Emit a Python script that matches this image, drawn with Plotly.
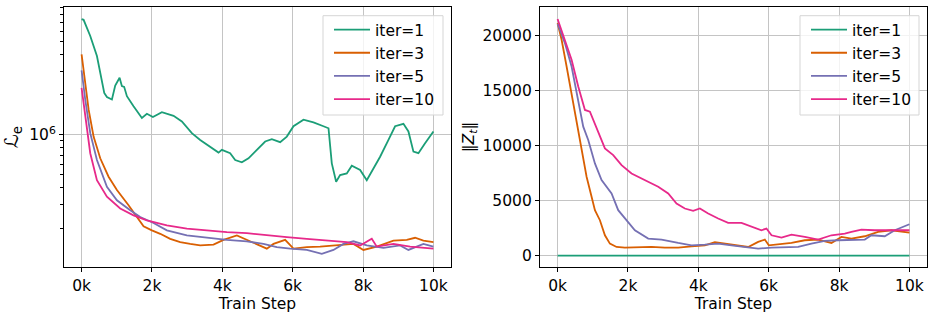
import plotly.graph_objects as go

# ---------------- data ----------------
series_names = ["iter=1", "iter=3", "iter=5", "iter=10"]
colors = ["#1b9e77", "#d95f02", "#7570b3", "#e7298a"]

# Left panel: L_e (log scale)
le_steps_iter1 = [0, 57, 246, 436, 644, 720, 862, 956, 1080, 1146, 1210, 1288, 1477, 1714, 1856, 2027,
                  2282, 2614, 2850, 3134, 3371, 3655, 3892, 3987, 4223, 4366, 4555, 4744, 4981, 5218,
                  5407, 5644, 5833, 6023, 6307, 6591, 6875, 7018, 7112, 7235, 7348, 7538, 7680, 7917,
                  8106, 8248, 8485, 8722, 8911, 9148, 9290, 9432, 9574, 9763, 10000]
le_iter1 = [7.38e6, 7.29e6, 5.52e6, 3.90e6, 2.06e6, 1.92e6, 1.84e6, 2.34e6, 2.68e6, 2.32e6, 2.29e6, 1.95e6,
            1.64e6, 1.34e6, 1.44e6, 1.36e6, 1.48e6, 1.39e6, 1.26e6, 1.03e6, 9.16e5, 8.17e5, 7.36e5, 7.71e5,
            7.28e5, 6.47e5, 6.22e5, 6.67e5, 7.71e5, 8.91e5, 9.27e5, 8.81e5, 9.70e5, 1.16e6, 1.30e6, 1.24e6,
            1.16e6, 1.12e6, 6.11e5, 4.45e5, 4.99e5, 5.14e5, 5.87e5, 5.45e5, 4.57e5, 5.28e5, 6.85e5, 9.16e5,
            1.16e6, 1.21e6, 1.06e6, 7.48e5, 7.28e5, 8.65e5, 1.06e6]

le_steps_iter3 = [0, 104, 199, 341, 530, 767, 1004, 1335, 1572, 1761, 1998, 2235, 2519, 2803, 3087, 3371,
                  3750, 4034, 4413, 4697, 5028, 5265, 5455, 5786, 6023, 6402, 6780, 7159, 7727, 8011,
                  8390, 8864, 9242, 9479, 9716, 10000]
le_iter3 = [4.02e6, 2.32e6, 1.55e6, 9.70e5, 6.67e5, 4.85e5, 3.85e5, 2.96e5, 2.42e5, 2.06e5, 1.92e5, 1.81e5,
            1.66e5, 1.57e5, 1.52e5, 1.48e5, 1.50e5, 1.63e5, 1.76e5, 1.63e5, 1.48e5, 1.40e5, 1.52e5, 1.63e5,
            1.40e5, 1.44e5, 1.45e5, 1.48e5, 1.52e5, 1.37e5, 1.45e5, 1.61e5, 1.63e5, 1.69e5, 1.61e5, 1.57e5]

le_steps_iter5 = [0, 104, 246, 436, 720, 1004, 1383, 1667, 2045, 2424, 2992, 3561, 4129, 4697, 5170, 5549,
                  5928, 6402, 6828, 7159, 7443, 7727, 8106, 8580, 9053, 9290, 9716, 10000]
le_iter5 = [3.04e6, 1.84e6, 1.03e6, 6.47e5, 4.07e5, 3.23e5, 2.72e5, 2.42e5, 2.18e5, 1.92e5, 1.76e5, 1.69e5,
            1.63e5, 1.59e5, 1.52e5, 1.44e5, 1.40e5, 1.37e5, 1.28e5, 1.37e5, 1.52e5, 1.59e5, 1.48e5, 1.42e5,
            1.48e5, 1.37e5, 1.52e5, 1.45e5]

le_steps_iter10 = [0, 104, 246, 436, 720, 1098, 1477, 1856, 2424, 2992, 3561, 4129, 4697, 5265, 5833, 6402,
                   6970, 7538, 7917, 8248, 8390, 8864, 9337, 9716, 10000]
le_iter10 = [2.25e6, 1.37e6, 7.28e5, 4.57e5, 3.43e5, 2.80e5, 2.49e5, 2.28e5, 2.09e5, 1.98e5, 1.92e5, 1.86e5,
             1.83e5, 1.76e5, 1.71e5, 1.66e5, 1.61e5, 1.57e5, 1.48e5, 1.66e5, 1.45e5, 1.52e5, 1.45e5, 1.42e5,
             1.40e5]

# Right panel: ||Z_t||
z_steps_iter1 = [0, 2000, 4000, 6000, 8000, 10000]
z_iter1 = [0, 0, 0, 0, 0, 0]

z_steps_iter3 = [0, 114, 256, 398, 540, 682, 824, 966, 1061, 1203, 1345, 1487, 1676, 1913, 2292, 2670, 3049,
                 3428, 3807, 4186, 4470, 4754, 5133, 5417, 5701, 5890, 6004, 6269, 6648, 7027, 7405, 7784,
                 8068, 8352, 8731, 9110, 9489, 10000]
z_iter3 = [21155, 19635, 17204, 14772, 12036, 9605, 7173, 5350, 4134, 3222, 1854, 1094, 790, 729, 790, 790,
           729, 729, 851, 942, 1216, 1094, 942, 790, 1246, 1459, 942, 1033, 1155, 1398, 1459, 1155, 1702,
           1550, 1763, 2158, 2310, 2097]

z_steps_iter5 = [0, 208, 398, 587, 729, 871, 1061, 1250, 1534, 1723, 1960, 2197, 2576, 2955, 3428, 3807, 4186,
                 4564, 4943, 5322, 5701, 6080, 6458, 6837, 7216, 7595, 7973, 8352, 8731, 8920, 9299, 9583,
                 10000]
z_iter5 = [21094, 19331, 17204, 14164, 11733, 10517, 8389, 6869, 5653, 4134, 3222, 2310, 1550, 1459, 1155, 942,
           1003, 1094, 942, 790, 638, 729, 790, 790, 1094, 1337, 1398, 1398, 1459, 1854, 1763, 2310, 2857]

z_steps_iter10 = [0, 208, 398, 587, 777, 919, 1155, 1345, 1581, 1818, 2102, 2481, 2860, 3144, 3381, 3617, 3854,
                  4044, 4280, 4564, 4848, 5227, 5511, 5795, 5937, 6080, 6364, 6648, 7027, 7405, 7784, 8163,
                  8352, 8636, 9015, 9489, 10000]
z_iter10 = [21520, 19635, 17812, 15380, 13252, 13100, 11277, 9757, 9149, 8237, 7477, 6869, 6261, 5653, 4742,
            4286, 4073, 4286, 3830, 3374, 2979, 2979, 2675, 2310, 2462, 1854, 1641, 1915, 1702, 1459, 1854,
            2006, 2158, 2371, 2310, 2310, 2310]

x_tickvals = [0, 2000, 4000, 6000, 8000, 10000]
x_ticktext = ["0k", "2k", "4k", "6k", "8k", "10k"]
z_tickvals = [0, 5000, 10000, 15000, 20000]
z_ticktext = ["0", "5000", "10000", "15000", "20000"]
le_minor = [2e5, 3e5, 4e5, 5e5, 6e5, 7e5, 8e5, 9e5, 2e6, 3e6, 4e6, 5e6, 6e6, 7e6, 8e6, 9e6]

left_data = [(le_steps_iter1, le_iter1), (le_steps_iter3, le_iter3),
             (le_steps_iter5, le_iter5), (le_steps_iter10, le_iter10)]
right_data = [(z_steps_iter1, z_iter1), (z_steps_iter3, z_iter3),
              (z_steps_iter5, z_iter5), (z_steps_iter10, z_iter10)]

# ---------------- figure ----------------
W, H = 935, 318
FONT = "DejaVu Sans"
FS = 15.5
fig = go.Figure()

for (xs, ys), name, c in zip(left_data, series_names, colors):
    fig.add_trace(go.Scatter(x=xs, y=ys, mode="lines", name=name, xaxis="x", yaxis="y",
                             line=dict(color=c, width=1.8), legend="legend"))
for (xs, ys), name, c in zip(right_data, series_names, colors):
    fig.add_trace(go.Scatter(x=xs, y=ys, mode="lines", name=name, xaxis="x2", yaxis="y2",
                             line=dict(color=c, width=1.8), legend="legend2"))

axis_common = dict(showline=True, mirror=True, linecolor="black", linewidth=1.2,
                   ticks="outside", ticklen=4, tickcolor="black", tickwidth=1,
                   showgrid=True, gridcolor="#c4c4c4", gridwidth=1, zeroline=False,
                   automargin=False,
                   tickfont=dict(family=FONT, size=FS, color="black"))

xdom1 = [64 / W, 451 / W]
xdom2 = [540 / W, 927 / W]
ydom = [1 - 267 / H, 1 - 7 / H]

shapes = [
    dict(type="rect", xref="paper", yref="paper", x0=323 / W, x1=443 / W, y0=1 - 115 / H, y1=1 - 15.7 / H,
         fillcolor="rgba(255,255,255,0.8)", line=dict(color="#d5d5d5", width=1), layer="above"),
    dict(type="rect", xref="paper", yref="paper", x0=800 / W, x1=919 / W, y0=1 - 115 / H, y1=1 - 15.7 / H,
         fillcolor="rgba(255,255,255,0.8)", line=dict(color="#d5d5d5", width=1), layer="above"),
]

legend_common = dict(xanchor="left", yanchor="top", bgcolor="rgba(0,0,0,0)", borderwidth=0,
                     font=dict(family=FONT, size=FS), itemwidth=36, tracegroupgap=0)

fig.update_layout(
    width=W, height=H,
    margin=dict(l=0, r=0, t=0, b=0, autoexpand=False),
    paper_bgcolor="white", plot_bgcolor="white",
    font=dict(family=FONT, size=FS, color="black"),
    shapes=shapes,
    xaxis=dict(domain=xdom1, anchor="y", range=[-500, 10500], tickmode="array",
               tickvals=x_tickvals, ticktext=x_ticktext,
               title=dict(text="Train Step", font=dict(family=FONT, size=FS), standoff=1),
               **axis_common),
    yaxis=dict(domain=ydom, anchor="x", type="log", range=[5.0086, 6.959], tickmode="array",
               tickvals=[1e6], ticktext=["10<sup>6</sup>"],
               minor=dict(tickmode="array", tickvals=le_minor, ticks="outside", ticklen=2.5,
                          tickcolor="black", showgrid=False),
               title=dict(text="<i>ℒ</i><sub>e</sub>", font=dict(family=FONT, size=19), standoff=6),
               **axis_common),
    xaxis2=dict(domain=xdom2, anchor="y2", range=[-500, 10500], tickmode="array",
                tickvals=x_tickvals, ticktext=x_ticktext,
                title=dict(text="Train Step", font=dict(family=FONT, size=FS), standoff=1),
                **axis_common),
    yaxis2=dict(domain=ydom, anchor="x2", range=[-1033, 22614], tickmode="array",
                tickvals=z_tickvals, ticktext=z_ticktext,
                title=dict(text="‖<i>Z</i><sub><i>t</i></sub>‖", font=dict(family=FONT, size=FS), standoff=4),
                **axis_common),
    legend=dict(x=329 / W, y=1 - 13 / H, **legend_common),
    legend2=dict(x=806 / W, y=1 - 13 / H, **legend_common),
)

fig.write_html("out.html", config={"displayModeBar": False},
               post_script="document.body.style.margin='0';document.body.style.padding='0';")
